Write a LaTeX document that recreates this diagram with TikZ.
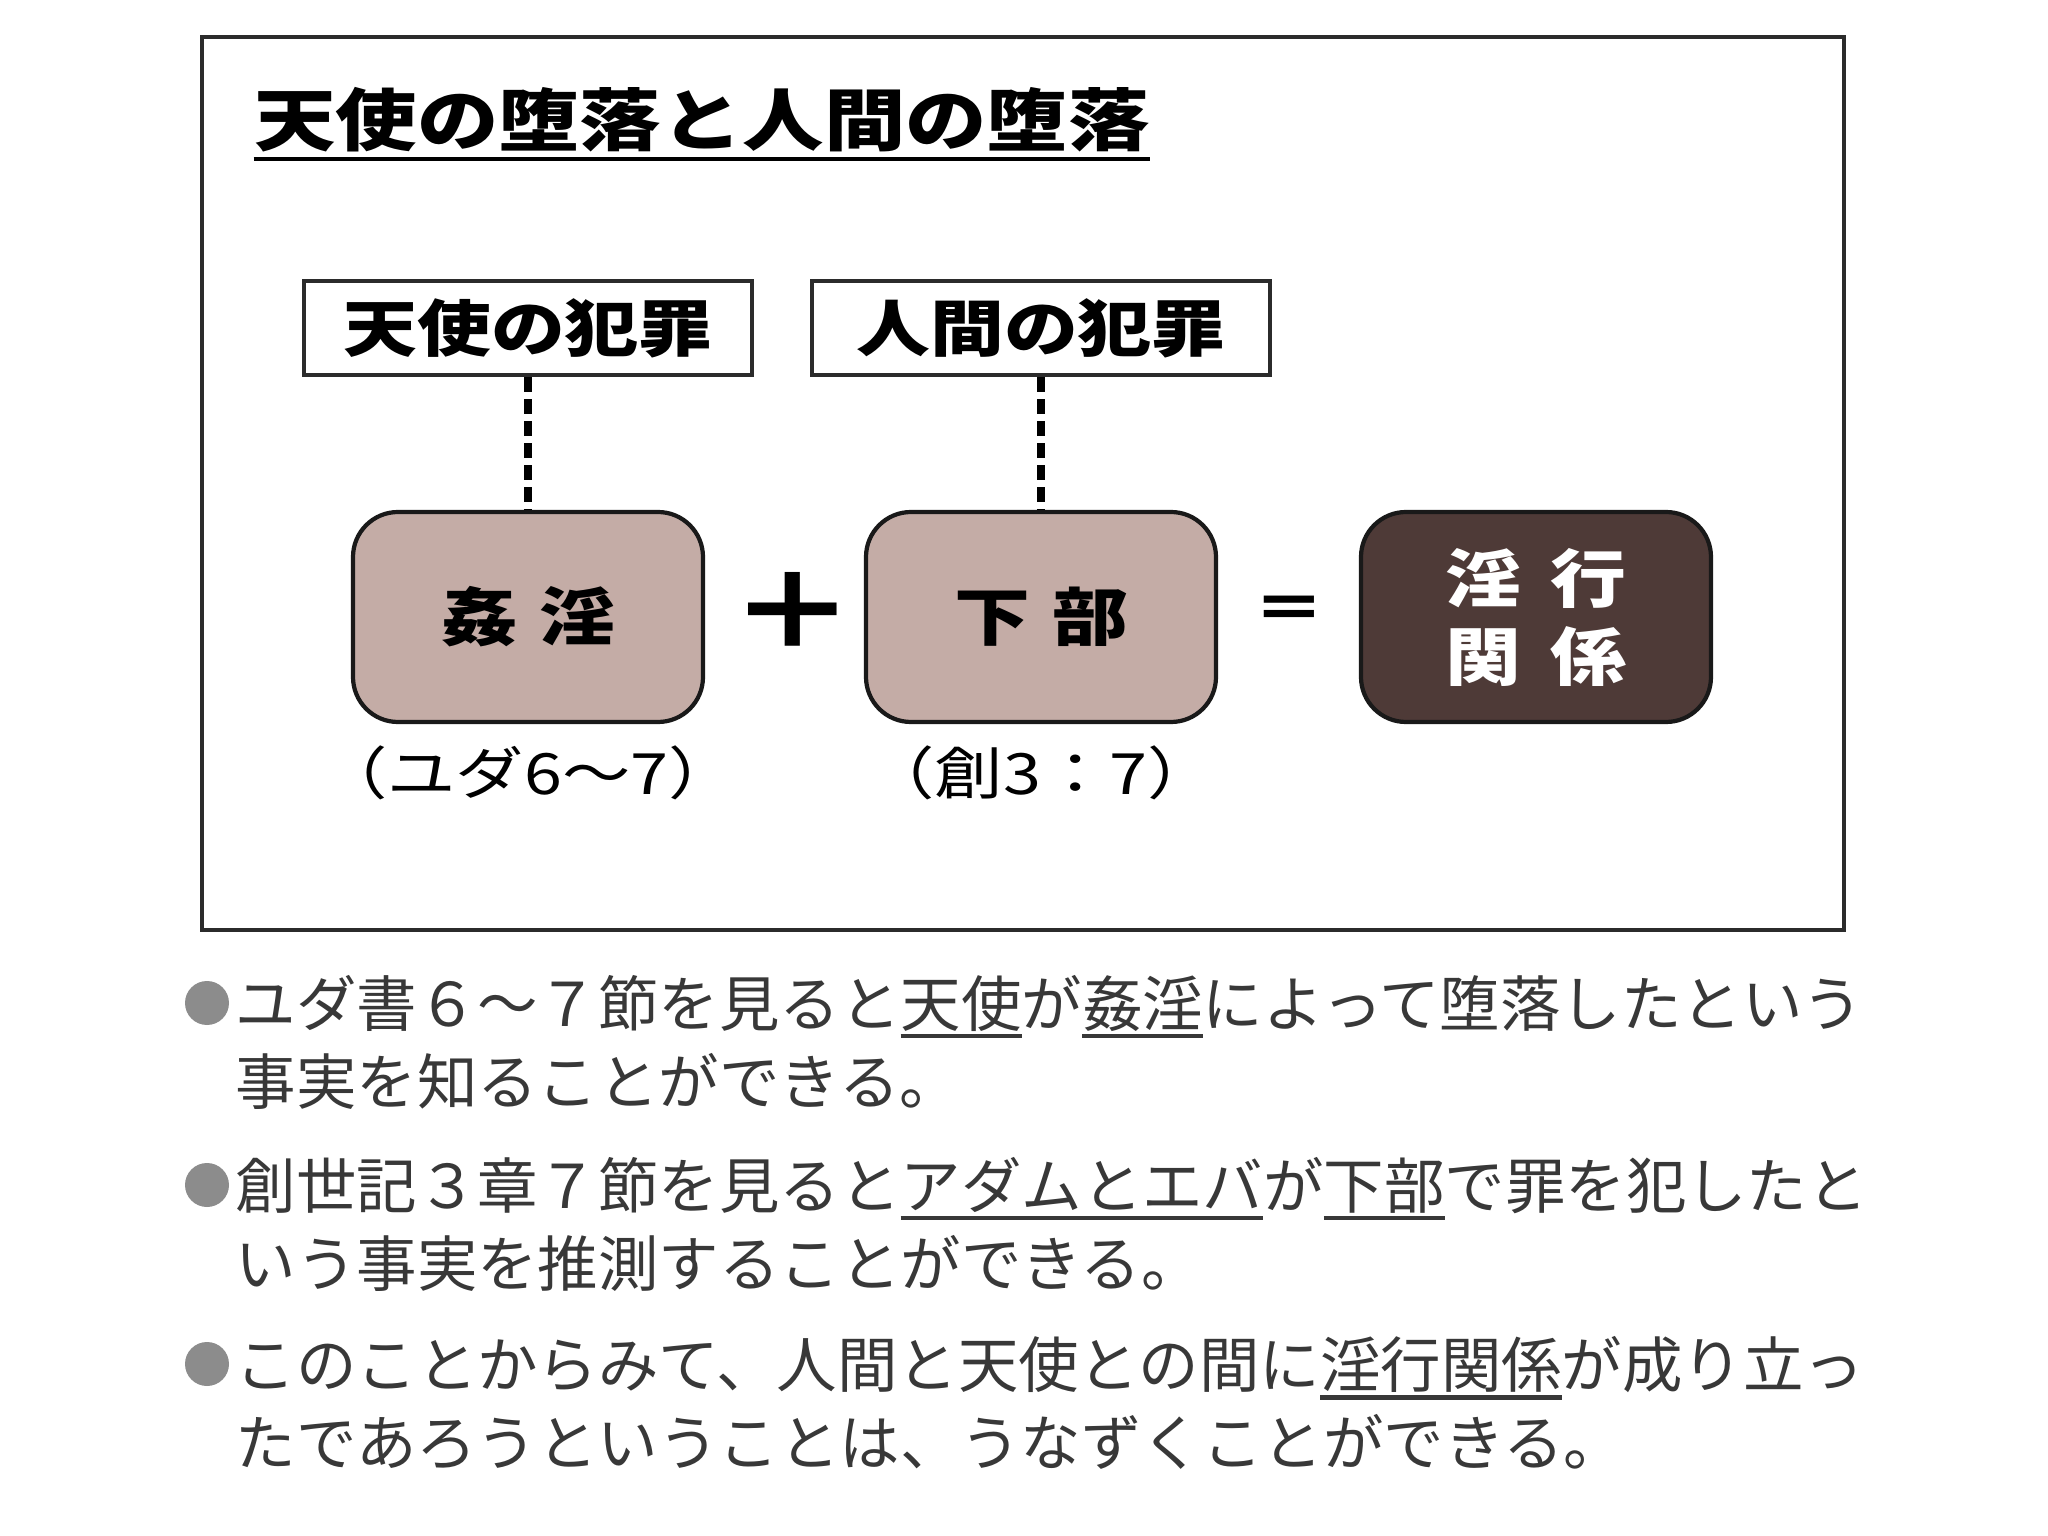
\documentclass[tikz,border=0pt]{standalone}
\usepackage{fontspec}
\setmainfont{Noto Sans CJK JP}
\newfontfamily\jpwide[FakeStretch=1.2]{Noto Sans CJK JP}
\definecolor{framegray}{HTML}{2B2B2B}
\definecolor{sinlight}{HTML}{C4ACA6}
\definecolor{sindark}{HTML}{4E3A37}
\definecolor{inkgray}{HTML}{383838}
\definecolor{dotgray}{HTML}{8C8C8C}
\newsavebox\ulbox
\protected\def\ulword#1{\sbox\ulbox{#1}\rlap{\rule[-0.2em]{\wd\ulbox}{0.07em}}\usebox\ulbox}

\begin{document}
\begin{tikzpicture}[
    crimebox/.style={draw=framegray, line width=1.2pt, minimum width=4.48cm, minimum height=0.94cm,
      inner sep=0pt, font=\jpwide\bfseries\fontsize{17.5}{17.5}\selectfont},
    sinbox/.style={draw=black!90, line width=1.2pt, rounded corners=0.45cm, minimum width=3.5cm,
      minimum height=2.1cm, inner sep=0pt, fill=sinlight,
      font=\jpwide\bfseries\fontsize{18}{18}\selectfont},
    link/.style={line width=2.4pt, dash pattern=on 0.15cm off 0.07cm},
    verse/.style={font=\jpwide\fontsize{16.2}{16.2}\selectfont, inner sep=0pt},
    dot/.style={circle, fill=dotgray, minimum size=0.44cm, inner sep=0pt},
    para/.style={anchor=west, align=left, inner sep=0pt, text=inkgray,
      font=\fontsize{17.2}{22.2}\selectfont}
  ]
  \useasboundingbox (0,0) rectangle (20.48,-15.36);
  \fill[white] (0,0) rectangle (20.48,-15.36);

  % frame and heading
  \draw[framegray, line width=1.4pt] (2.02,-0.37) rectangle (18.44,-9.30);
  \node[inner sep=0pt, font=\jpwide\bfseries\fontsize{19.3}{19.3}\selectfont] (title) at (7.02,-1.20)
    {天使の堕落と人間の堕落};
  \draw[line width=1.1pt] (title.west |- 0,-1.59) -- (title.east |- 0,-1.59);

  % the two sins
  \node[crimebox] (crimeA) at (5.28,-3.28) {天使の犯罪};
  \node[crimebox, minimum width=4.58cm] (crimeB) at (10.41,-3.28) {人間の犯罪};
  \node[sinbox] (sinA) at (5.28,-6.17) {姦\hspace{0.35em}淫};
  \node[sinbox] (sinB) at (10.41,-6.17) {下\hspace{0.35em}部};
  \node[sinbox, fill=sindark, text=white, align=center,
    font=\jpwide\bfseries\fontsize{18}{22.2}\selectfont] (result) at (15.36,-6.17)
    {淫\hspace{0.45em}行\\関\hspace{0.45em}係};
  \draw[link] (crimeA) -- (sinA);
  \draw[link] (crimeB) -- (sinB);
  \node[inner sep=0pt, font=\jpwide\bfseries\fontsize{30}{30}\selectfont] (plus) at (7.93,-6.11) {＋};
  \node[inner sep=0pt, font=\jpwide\bfseries\fontsize{17}{17}\selectfont] (equal) at (12.89,-6.13) {＝};
  \node[verse] (verseA) at (5.28,-7.73) {（ユダ6～7）};
  \node[verse] (verseB) at (10.41,-7.73) {（創3：7）};

  % notes
  \node[dot] (dot1) at (2.07,-10.03) {};
  \node[para] (note1) at (2.35,-10.42)
    {ユダ書６～７節を見ると\ulword{天使}が\ulword{姦淫}によって堕落したという\\事実を知ることができる。};
  \node[dot] (dot2) at (2.07,-11.85) {};
  \node[para] (note2) at (2.35,-12.24)
    {創世記３章７節を見ると\ulword{アダムとエバ}が\ulword{下部}で罪を犯したと\\いう事実を推測することができる。};
  \node[dot] (dot3) at (2.07,-13.64) {};
  \node[para] (note3) at (2.35,-14.03)
    {このことからみて、人間と天使との間に\ulword{淫行関係}が成り立っ\\たであろうということは、うなずくことができる。};
\end{tikzpicture}
\end{document}
